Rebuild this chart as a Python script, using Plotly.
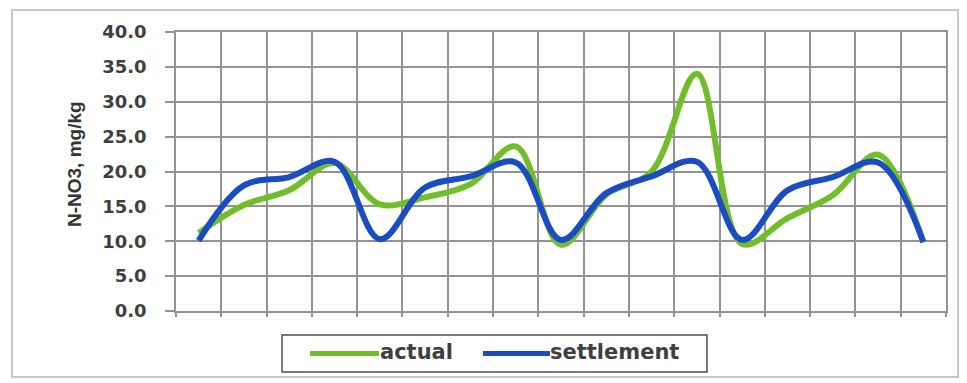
import plotly.graph_objects as go

# ---- data ----
categories = list(range(17))
actual = [11.2, 15.2, 17.3, 21.2, 15.3, 16.3, 18.2, 23.6, 9.5, 16.7, 20.0, 34.0, 9.6, 13.3, 16.6, 22.4, 9.8]
settlement = [10.1, 18.0, 19.2, 21.4, 10.3, 17.7, 19.3, 21.3, 10.2, 16.9, 19.3, 21.4, 10.2, 17.3, 19.2, 21.3, 9.9]
series_names = ["actual", "settlement"]
y_title = "N-NO3, mg/kg"

GREEN = "#72bd2a"
BLUE = "#1a4cc2"
GRID = "#939393"
TXT = "#3f3f3f"

W, H = 967, 383
L, R, T, B = 176, 21, 32, 72
pw, ph = W - L - R, H - T - B

def px(x):
    return (x - L) / pw

def py(y):
    return (H - B - y) / ph

fig = go.Figure()
fig.add_trace(go.Scatter(x=categories, y=actual, mode="lines", name=series_names[0],
                         line=dict(color=GREEN, width=6, shape="spline", smoothing=1.0),
                         showlegend=False))
fig.add_trace(go.Scatter(x=categories, y=settlement, mode="lines", name=series_names[1],
                         line=dict(color=BLUE, width=6, shape="spline", smoothing=1.0),
                         showlegend=False))

bounds = [c - 0.5 for c in categories] + [categories[-1] + 0.5]

fig.update_layout(
    width=W, height=H,
    margin=dict(l=L, r=R, t=T, b=B),
    paper_bgcolor="white", plot_bgcolor="white",
    xaxis=dict(range=[bounds[0], bounds[-1]], tickmode="array", tickvals=bounds,
               showticklabels=False, showgrid=True, gridcolor=GRID, gridwidth=1.5,
               ticks="outside", ticklen=4, tickcolor=GRID, tickwidth=1.5,
               showline=True, linecolor=GRID, linewidth=1.5, mirror=True, zeroline=False),
    yaxis=dict(range=[0, 40], dtick=5, tick0=0, tickformat=".1f",
               showgrid=True, gridcolor=GRID, gridwidth=1.5,
               ticks="outside", ticklen=9, tickcolor=GRID, tickwidth=1.5,
               ticklabelstandoff=15,
               tickfont=dict(family="DejaVu Sans", size=18, color=TXT, weight="bold"),
               showline=True, linecolor=GRID, linewidth=1.5, mirror=True, zeroline=False),
)

shapes = []
# outer chart border
shapes.append(dict(type="rect", xref="paper", yref="paper",
                   x0=px(12), x1=px(958), y0=py(377), y1=py(10),
                   line=dict(color="#c8c8c8", width=2), layer="below"))
# legend box
shapes.append(dict(type="rect", xref="paper", yref="paper",
                   x0=px(282), x1=px(707), y0=py(372), y1=py(335),
                   line=dict(color="#505050", width=1.5)))
# legend samples
shapes.append(dict(type="line", xref="paper", yref="paper",
                   x0=px(310), x1=px(379), y0=py(353.5), y1=py(353.5),
                   line=dict(color=GREEN, width=5)))
shapes.append(dict(type="line", xref="paper", yref="paper",
                   x0=px(483), x1=px(550), y0=py(353.5), y1=py(353.5),
                   line=dict(color=BLUE, width=5)))
fig.update_layout(shapes=shapes)

annotations = [
    dict(text=y_title, xref="paper", yref="paper", x=px(74), y=py(164),
         textangle=-90, showarrow=False, xanchor="center", yanchor="middle",
         font=dict(family="Liberation Sans", size=19, color="#333333", weight="bold")),
    dict(text=series_names[0], xref="paper", yref="paper", x=px(378), y=py(352),
         showarrow=False, xanchor="left", yanchor="middle",
         font=dict(family="DejaVu Sans", size=21, color=TXT, weight="bold")),
    dict(text=series_names[1], xref="paper", yref="paper", x=px(548), y=py(352),
         showarrow=False, xanchor="left", yanchor="middle",
         font=dict(family="DejaVu Sans", size=21, color=TXT, weight="bold")),
]
fig.update_layout(annotations=annotations)

fig.write_html("out.html")
